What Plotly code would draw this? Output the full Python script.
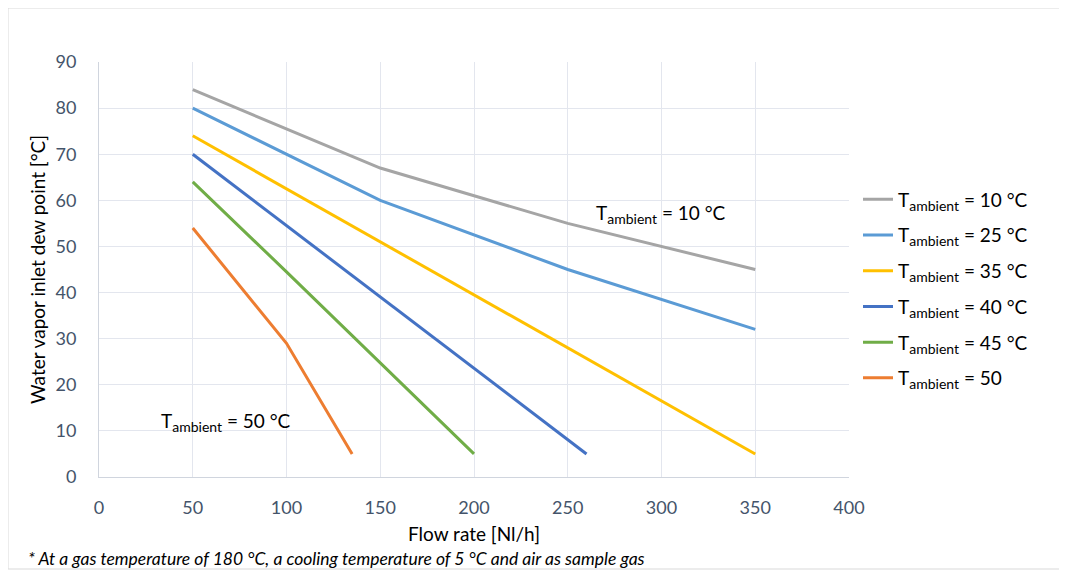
import plotly.graph_objects as go

# Data
labels = ["10 °C", "25 °C", "35 °C", "40 °C", "45 °C", "50"]
colors = ["#A5A5A5", "#5B9BD5", "#FFC000", "#4472C4", "#70AD47", "#ED7D31"]
x_10 = [50, 150, 250, 350]
y_10 = [84, 67, 55, 45]
x_25 = [50, 150, 250, 350]
y_25 = [80, 60, 45, 32]
x_35 = [50, 150, 250, 350]
y_35 = [74, 51, 28, 5]
x_40 = [50, 150, 260]
y_40 = [70, 39, 5]
x_45 = [50, 100, 200]
y_45 = [64, 44.5, 5]
x_50 = [50, 100, 135]
y_50 = [54, 29, 5]
xs = [x_10, x_25, x_35, x_40, x_45, x_50]
ys = [y_10, y_25, y_35, y_40, y_45, y_50]

x_ticks = [0, 50, 100, 150, 200, 250, 300, 350, 400]
y_ticks = [0, 10, 20, 30, 40, 50, 60, 70, 80, 90]

FONT = "Lato"
SUB = "<sub><span style='font-size:14px'>ambient</span></sub>"

fig = go.Figure()
for i, (lab, col) in enumerate(zip(labels, colors)):
    fig.add_trace(go.Scatter(
        x=xs[i], y=ys[i], mode="lines",
        name=f"T{SUB} = {lab}",
        line=dict(color=col, width=3),
        legendgroup=f"g{i}",
    ))

fig.add_annotation(x=264, y=57, xanchor="left", yanchor="middle",
                   text=f"T{SUB} = 10 °C", showarrow=False,
                   font=dict(family=FONT, size=19, color="#000000"))
fig.add_annotation(x=32, y=12, xanchor="left", yanchor="middle",
                   text=f"T{SUB} = 50 °C", showarrow=False,
                   font=dict(family=FONT, size=19, color="#000000"))

# footnote
fig.add_annotation(xref="paper", yref="paper", x=(18 - 91) / 750, y=(469 - 550) / 415,
                   xanchor="left", yanchor="middle",
                   text="<i>* At a gas temperature of 180 °C, a cooling temperature of 5 °C and air as sample gas</i>",
                   showarrow=False, font=dict(family=FONT, size=17.5, color="#000000"))

# outer border
fig.add_shape(type="rect", xref="paper", yref="paper",
              x0=(0 - 91) / 750, x1=(1058 - 91) / 750,
              y0=(469 - 561) / 415, y1=(469 - 0) / 415,
              line=dict(color="#D9D9D9", width=1), fillcolor="rgba(0,0,0,0)", layer="below")

fig.update_layout(
    width=1067, height=570,
    margin=dict(l=91, r=226, t=54, b=101),
    paper_bgcolor="white", plot_bgcolor="white",
    font=dict(family=FONT, size=16, color="#595959"),
    showlegend=True,
    legend=dict(x=1.012, xanchor="left", y=0.453, yanchor="middle",
                font=dict(family=FONT, size=19, color="#000000"),
                tracegroupgap=8, bgcolor="rgba(0,0,0,0)"),
    xaxis=dict(range=[0, 400], tickvals=x_ticks, showgrid=True, gridcolor="#E3E6EE",
               gridwidth=1, zeroline=False, showline=True, linecolor="#D0D5DE",
               ticks="", tickfont=dict(size=18, color="#44546A"), ticklabelstandoff=14,
               title=dict(text="Flow rate [Nl/h]", font=dict(size=19, color="#000000"), standoff=11)),
    yaxis=dict(range=[0, 90], tickvals=y_ticks, showgrid=True, gridcolor="#E3E6EE",
               gridwidth=1, zeroline=False, showline=True, linecolor="#D0D5DE",
               ticks="", tickfont=dict(size=18, color="#44546A"), ticklabelstandoff=18,
               title=dict(text="Water vapor inlet dew point [°C]", font=dict(size=19, color="#000000"), standoff=4)),
)

fig.write_html("out.html")
